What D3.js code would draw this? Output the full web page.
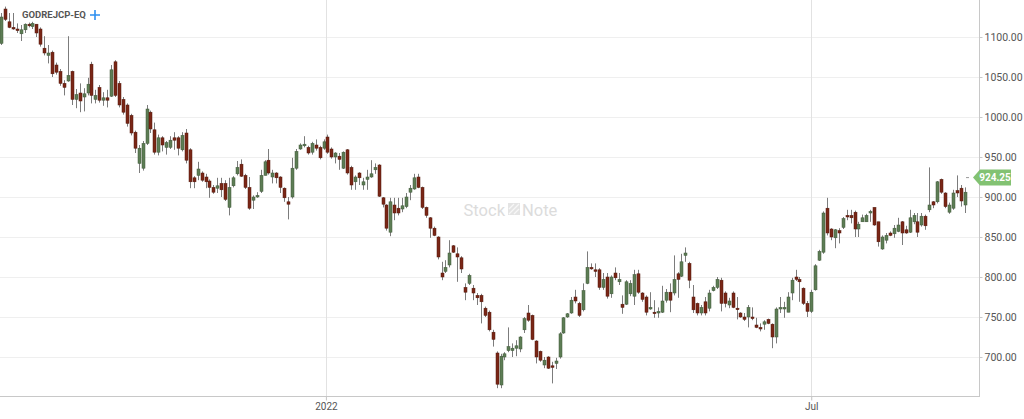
<!DOCTYPE html>
<html>
<head>
<meta charset="utf-8">
<script src="https://cdn.jsdelivr.net/npm/d3@7/dist/d3.min.js"></script>
<style>
  html, body { margin: 0; padding: 0; background: #ffffff; }
  svg { display: block; }
</style>
</head>
<body>
<svg id="chart" width="1024" height="419"></svg>
<script>
const symbol = "GODREJCP-EQ";
const lastPrice = 924.25;

const opens = [1092,1135,1119,1112,1110,1104,1109,1116,1113,1116,1110,1086,1077,1081,1065,1057,1042,1045,1057,1022,
1030,1025,1030,1066,1022,1037,1021,1024,1026,1069,1042,1022,1015,1002,981,942,936,967,1006,984,
956,974,962,962,974,974,959,980,959,924,927,930,925,920,912,911,917,917,887,914,
929,941,927,912,896,900,907,927,946,925,930,925,911,894,900,936,960,964,962,956,
965,962,961,975,960,950,951,936,959,937,919,930,915,922,925,934,940,899,890,856,
890,886,885,888,906,910,925,912,887,874,861,850,805,807,815,839,829,824,787,792,
786,777,777,761,756,731,705,665,700,708,708,711,710,734,755,752,720,707,690,700,
689,692,700,730,750,755,775,767,759,792,812,809,809,787,800,779,805,794,766,766,
779,776,804,780,775,760,756,755,756,771,781,780,804,801,827,817,775,767,755,769,
761,783,787,796,780,765,780,761,755,750,750,750,740,737,741,747,741,725,760,760,
756,780,800,797,786,767,757,784,821,831,886,860,849,858,862,877,877,881,860,869,
869,880,887,869,835,846,855,854,857,869,859,856,869,869,865,876,884,894,894,922,
905,881,886,908,911,890];
const highs = [1130,1138,1130,1130,1117,1115,1117,1118,1119,1116,1112,1101,1090,1083,1068,1060,1046,1101,1058,1035,
1042,1036,1049,1069,1034,1040,1031,1034,1065,1071,1045,1025,1017,1004,983,965,970,1015,1008,993,
978,976,970,976,981,976,981,985,961,926,944,932,929,922,915,924,924,921,924,926,
945,947,929,925,902,906,934,946,960,934,931,926,912,900,949,960,967,976,964,969,
972,964,972,978,962,956,955,957,960,939,927,931,924,934,946,942,941,900,891,899,
899,899,899,905,915,929,929,913,888,875,863,851,819,821,846,840,837,826,792,804,
790,780,779,763,758,734,707,704,706,737,717,721,726,750,765,753,721,708,700,701,
694,699,731,750,755,775,784,769,792,832,817,817,811,805,805,802,812,805,777,796,
796,809,809,781,777,781,771,762,789,785,792,827,806,829,837,819,790,768,765,775,
784,789,800,799,782,774,782,775,756,755,765,762,749,742,746,748,742,762,775,769,
781,799,809,800,787,770,784,816,834,882,899,861,860,861,875,884,884,883,869,878,
879,884,887,869,852,855,857,865,874,870,864,884,880,880,880,878,937,895,920,923,
906,893,909,927,915,912];
const lows = [1090,1120,1111,1109,1105,1095,1105,1112,1110,1100,1088,1077,1067,1050,1053,1039,1027,1044,1015,1011,
1006,1007,1027,1017,1017,1018,1014,1012,1025,1025,1012,1003,988,977,955,930,933,965,980,953,
952,957,953,960,959,952,957,942,911,911,921,919,911,899,904,905,900,895,877,912,
927,925,910,884,885,899,905,927,928,917,917,905,894,872,898,934,959,962,953,953,
958,947,959,954,948,942,934,935,928,909,909,915,909,909,924,929,900,887,858,851,
871,877,881,886,896,909,911,885,874,849,851,822,796,805,812,830,794,805,771,790,
771,765,742,750,732,713,661,661,696,706,700,701,706,730,744,721,692,694,686,685,
667,685,698,729,749,754,767,750,757,791,809,800,784,784,773,774,796,790,754,765,
776,765,779,769,752,759,749,749,755,768,756,777,774,800,819,786,755,752,752,752,
757,782,785,757,762,761,761,747,749,745,737,746,736,732,734,741,711,717,755,749,
756,771,795,769,765,750,755,783,820,829,852,846,836,842,860,871,867,850,850,869,
869,869,864,838,834,842,851,849,856,840,854,855,866,850,863,859,881,886,892,904,
886,879,884,900,888,880];
const closes = [1125,1122,1112,1110,1108,1109,1116,1114,1117,1105,1091,1080,1080,1054,1056,1042,1037,1052,1022,1028,
1020,1029,1041,1027,1027,1021,1024,1021,1059,1027,1015,1006,992,980,961,961,967,1010,985,956,
974,965,968,971,971,961,977,946,919,919,935,921,919,912,906,914,909,897,912,924,
937,926,912,886,900,902,927,944,930,930,924,912,899,891,936,957,965,966,955,967,
961,949,969,956,950,955,947,956,930,915,925,924,919,925,929,937,901,891,861,894,
880,880,889,900,911,924,912,887,877,861,852,825,800,812,830,831,825,810,781,802,
780,774,769,752,734,722,666,701,704,713,711,714,725,748,746,722,700,696,696,686,
687,695,729,749,754,771,770,752,783,812,811,807,787,797,776,800,799,797,762,794,
792,803,781,772,756,762,755,757,770,781,771,797,797,819,830,796,759,755,762,755,
780,787,797,767,767,770,762,760,750,747,762,748,737,735,744,742,725,760,762,762,
775,796,797,794,767,757,781,814,832,880,855,850,859,855,873,875,874,860,866,874,
877,882,865,844,850,852,852,861,865,855,855,874,877,856,876,864,890,890,919,906,
888,890,905,905,895,906];

const yTicks = [700, 750, 800, 850, 900, 950, 1000, 1050, 1100];
const xTickLabels = ["2022", "Jul"];
const xTickIndex = [82.6, 206];

const W = 1024, H = 419;
const plot = { left: 0, top: 0, right: 979, bottom: 396 };

const svg = d3.select("#chart");

const x = d3.scaleLinear().domain([0, opens.length - 1]).range([1, 964.7]);
const y = d3.scaleLinear().domain([700, 1100]).range([357, 37]);

svg.append("defs").append("clipPath").attr("id", "clip")
  .append("rect").attr("x", plot.left).attr("y", plot.top)
  .attr("width", plot.right - plot.left).attr("height", plot.bottom - plot.top);

// horizontal grid
svg.append("g").selectAll("line").data(yTicks).join("line")
  .attr("x1", plot.left).attr("x2", plot.right)
  .attr("y1", d => Math.round(y(d)) + 0.5).attr("y2", d => Math.round(y(d)) + 0.5)
  .attr("stroke", "#efefef").attr("stroke-width", 1);

// vertical grid
svg.append("g").selectAll("line").data(xTickIndex).join("line")
  .attr("x1", d => Math.round(x(d)) + 0.5).attr("x2", d => Math.round(x(d)) + 0.5)
  .attr("y1", plot.top).attr("y2", plot.bottom + 4)
  .attr("stroke", "#e2e2e2").attr("stroke-width", 1);

// watermark
const wm = svg.append("g").attr("fill", "#dcdcdc")
  .attr("font-family", "Roboto, 'Noto Sans', sans-serif").attr("font-size", 16.5);
wm.append("text").attr("x", 505).attr("y", 216).attr("text-anchor", "end").text("Stock");
wm.append("rect").attr("x", 508).attr("y", 203).attr("width", 12).attr("height", 12).attr("fill", "#e4e4e4");
wm.append("path").attr("d", "M509,214 L519,204 M509,209 L514,204 M514,214 L519,209").attr("stroke", "#f7f7f7").attr("stroke-width", 1.3);
wm.append("text").attr("x", 522).attr("y", 216).attr("text-anchor", "start").text("Note");

// axes borders
svg.append("line").attr("x1", plot.right + 0.5).attr("x2", plot.right + 0.5)
  .attr("y1", 0).attr("y2", plot.bottom).attr("stroke", "#c8c8c8");
svg.append("line").attr("x1", 0).attr("x2", plot.right + 1)
  .attr("y1", plot.bottom + 0.5).attr("y2", plot.bottom + 0.5).attr("stroke", "#c8c8c8");

// y axis
const yAxis = d3.axisRight(y).tickValues(yTicks).tickFormat(d3.format(".2f")).tickSize(3).tickPadding(2);
const gy = svg.append("g").attr("transform", `translate(${plot.right + 0.5},0)`).call(yAxis);
gy.select(".domain").remove();
gy.selectAll("line").attr("stroke", "#c8c8c8");
gy.selectAll("text").attr("fill", "#555").attr("font-size", 10.5)
  .attr("font-family", "Roboto, 'Noto Sans', sans-serif");

// x axis
const xAxis = d3.axisBottom(x).tickValues(xTickIndex).tickFormat((d, i) => xTickLabels[i]).tickSize(4).tickPadding(2);
const gx = svg.append("g").attr("transform", `translate(0,${plot.bottom + 0.5})`).call(xAxis);
gx.select(".domain").remove();
gx.selectAll("line").attr("stroke", "#c8c8c8");
gx.selectAll("text").attr("fill", "#555").attr("font-size", 10)
  .attr("font-family", "Roboto, 'Noto Sans', sans-serif");

// candles
const data = opens.map((o, i) => ({ i, o, h: highs[i], l: lows[i], c: closes[i] }));
const cg = svg.append("g").attr("clip-path", "url(#clip)");
const bw = 3;
cg.selectAll("line.wick").data(data).join("line").attr("class", "wick")
  .attr("x1", d => Math.round(x(d.i)) + 0.5).attr("x2", d => Math.round(x(d.i)) + 0.5)
  .attr("y1", d => y(d.h)).attr("y2", d => y(d.l))
  .attr("stroke", "#7c7c7c").attr("stroke-width", 1);
cg.selectAll("rect.body").data(data).join("rect").attr("class", "body")
  .attr("x", d => Math.round(x(d.i)) - 1)
  .attr("y", d => y(Math.max(d.o, d.c)))
  .attr("width", bw)
  .attr("height", d => Math.max(1.5, Math.abs(y(d.o) - y(d.c))))
  .attr("fill", d => d.c >= d.o ? "#5d7d55" : "#7a2616")
  .attr("stroke", d => d.c >= d.o ? "#40583a" : "#53180c")
  .attr("stroke-width", 0.5);

// last price marker
const ly = y(lastPrice);
svg.append("line").attr("x1", 966).attr("x2", 969).attr("y1", ly).attr("y2", ly)
  .attr("stroke", "#999").attr("stroke-width", 1);
svg.append("path")
  .attr("d", `M${plot.right - 6},${ly} L${plot.right + 1},${ly - 8} L1011,${ly - 8} L1011,${ly + 8} L${plot.right + 1},${ly + 8} Z`)
  .attr("fill", "#82c272");
svg.append("text").attr("x", 995).attr("y", ly + 3.5).attr("text-anchor", "middle")
  .attr("fill", "#fff").attr("font-weight", "bold").attr("font-size", 10)
  .attr("font-family", "Roboto, 'Noto Sans', sans-serif").text(lastPrice.toFixed(2));

// title
svg.append("text").attr("x", 22).attr("y", 18).attr("fill", "#555")
  .attr("font-size", 9.5).attr("font-weight", "bold")
  .attr("font-family", "Roboto, 'Noto Sans', sans-serif").text(symbol);
svg.append("path").attr("d", "M95,10 L95,20 M90,15 L100,15")
  .attr("stroke", "#2d8ff0").attr("stroke-width", 1.6);
</script>
</body>
</html>
